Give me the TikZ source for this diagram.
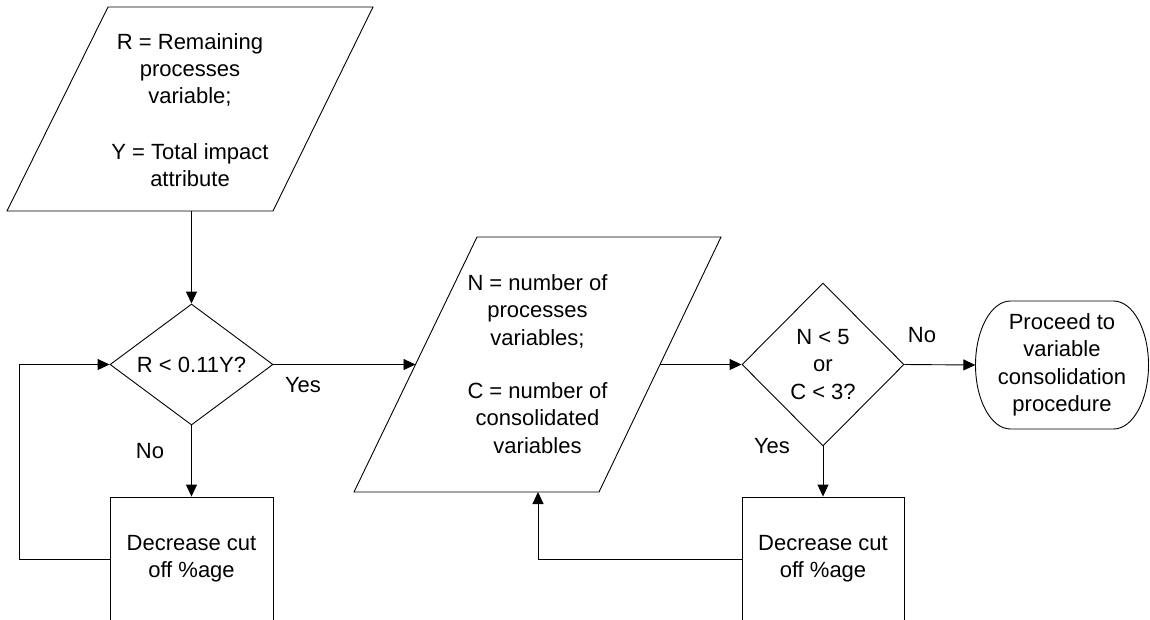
\documentclass[tikz,border=0pt]{standalone}
\usepackage{fontspec}
\setmainfont{Liberation Sans}
\usetikzlibrary{arrows.meta,shapes.geometric}
\begin{document}
\begin{tikzpicture}[x=1pt,y=-1pt,
  every node/.style={font=\fontsize{22}{27.4}\selectfont, inner sep=0pt, align=center},
  line/.style={line width=0.9pt, draw=black},
  arr/.style={line, -{Triangle[length=12pt,width=11pt]}},
  decision/.style={line, diamond},
  procbox/.style={line, rectangle, minimum width=163pt, minimum height=124pt},
  lbl/.style={anchor=base}
]
\useasboundingbox (0,0) rectangle (1150,619);
\clip (0,0) rectangle (1150,619);

% input: remaining processes / total impact
\node (in1) at (190,110) {R = Remaining\\processes\\variable;\\[28pt]Y = Total impact\\attribute};
\draw[line] (108,7) -- (373,7) -- (273,211) -- (7,211) -- cycle;
\coordinate (in1s) at (191.5,211);

% first decision and its loop box
\node[decision, shape aspect=1.35, minimum width=163pt, minimum height=121pt] (d1) at (191.5,364.5) {R < 0.11Y?};
\node[procbox] (b1) at (191.5,559) {Decrease cut\\off \%age};
\coordinate (loopT) at (19,364.5);

% input: number of processes / consolidated variables
\node (in2) at (537.5,364) {N = number of\\processes\\variables;\\[26pt]C = number of\\consolidated\\variables};
\draw[line] (477,237) -- (721,237) -- (599,492) -- (354,492) -- cycle;
\coordinate (in2l) at (415.5,364.5);
\coordinate (in2r) at (660,364.5);
\coordinate (in2b) at (538,492);

% second decision and its loop box
\node[decision, shape aspect=1, minimum width=162pt, minimum height=163pt] (d2) at (823,364.5) {N < 5\\or\\C < 3?};
\node[procbox, minimum width=162pt] (b2) at (823,559) {Decrease cut\\off \%age};

% terminator
\node[minimum width=173pt, minimum height=128pt] (t) at (1062,365) {Proceed to\\variable\\consolidation\\procedure};
\draw[line] (1010.5,301) -- (1113.5,301)
  arc[start angle=-90, end angle=0, x radius=35, y radius=64]
  arc[start angle=0, end angle=90, x radius=35, y radius=64]
  -- (1010.5,429)
  arc[start angle=90, end angle=180, x radius=35, y radius=64]
  arc[start angle=180, end angle=270, x radius=35, y radius=64]
  -- cycle;

% connectors
\draw[arr] (in1s) -- (d1.north);
\draw[arr] (d1.east) -- (in2l);
\draw[arr] (d1.south) -- (b1.north);
\draw[arr] (b1.west) -| (loopT) -- (d1.west);
\draw[arr] (in2r) -- (d2.west);
\draw[arr] (d2.east) -- (t.west);
\draw[arr] (d2.south) -- (b2.north);
\draw[arr] (b2.west) -| (in2b);

% branch labels
\node[lbl] (yes1) at (303,392) {Yes};
\node[lbl] (no1) at (150,458) {No};
\node[lbl] (no2) at (922,342) {No};
\node[lbl] (yes2) at (772,453) {Yes};
\end{tikzpicture}
\end{document}
